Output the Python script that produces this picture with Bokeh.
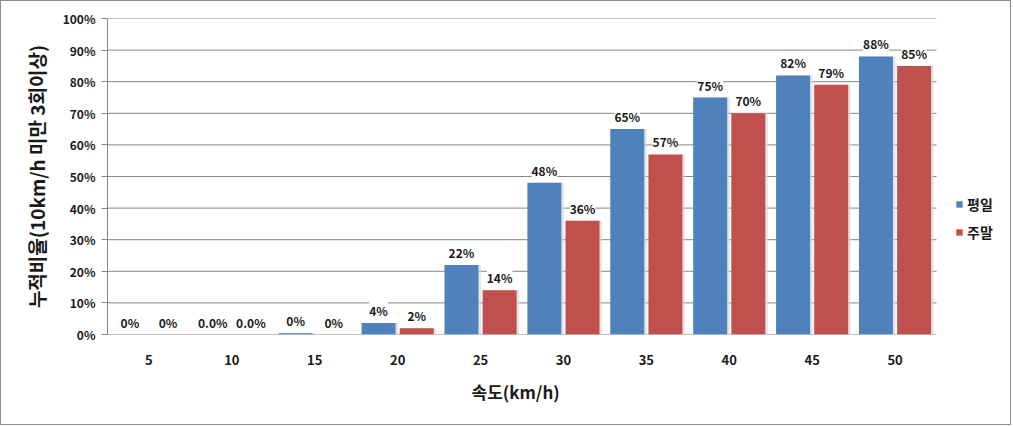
from bokeh.plotting import figure
from bokeh.models import ColumnDataSource, Range1d, FixedTicker, NumeralTickFormatter, Legend, LegendItem, LabelSet, Title
from bokeh.core.properties import value
from bokeh.embed import file_html
from bokeh.resources import INLINE

categories = ["5", "10", "15", "20", "25", "30", "35", "40", "45", "50"]
weekday = [0.0, 0.0, 0.4, 3.6, 22.0, 48.0, 65.0, 75.0, 82.0, 88.0]
weekend = [0.0, 0.0, 0.0, 2.0, 14.0, 36.0, 57.0, 70.0, 79.0, 85.0]
weekday_labels = ["0%", "0.0%", "0%", "4%", "22%", "48%", "65%", "75%", "82%", "88%"]
weekend_labels = ["0%", "0.0%", "0%", "2%", "14%", "36%", "57%", "70%", "79%", "85%"]
series_names = ["평일", "주말"]
yticks = [0, 10, 20, 30, 40, 50, 60, 70, 80, 90, 100]
x_title = "속도(km/h)"
y_title = "누적비율(10km/h 미만 3회이상)"

FONT = "Noto Sans CJK KR"
BLUE = "#4F81BD"
RED = "#C0504D"
GRID = "#868686"

idx = list(range(len(categories)))
off = 0.23
bw = 0.41

W, H = 1011, 425
LEFT, RIGHT, TOP, BOTTOM = 106, 2, 17, 92
frame_w = W - LEFT - RIGHT
cat_w = 829 / 10.0  # pixel width of one category
x_end = -0.5 + frame_w / cat_w

src_a = ColumnDataSource(dict(x=[i - off for i in idx], top=[v / 100 for v in weekday], lab=weekday_labels,
                              sx=[i - off + 0.03 for i in idx]))
src_b = ColumnDataSource(dict(x=[i + off for i in idx], top=[v / 100 for v in weekend], lab=weekend_labels,
                              sx=[i + off + 0.03 for i in idx]))

p = figure(width=W, height=H, output_backend="svg", toolbar_location=None,
           x_range=Range1d(-0.5, x_end), y_range=Range1d(0, 1),
           min_border_left=LEFT, min_border_right=RIGHT, min_border_top=TOP, min_border_bottom=BOTTOM)
p.outline_line_color = None
p.background_fill_color = "white"
p.border_fill_color = "white"
p.styles = {"border": "1px solid #8c8c8c", "box-sizing": "border-box"}

# gridlines only across the category area
gy = [t / 100 for t in yticks]
p.segment(x0=[-0.5] * len(gy), x1=[len(categories) - 0.5] * len(gy), y0=gy, y1=gy,
          line_color=GRID, line_width=1)

# shadows
p.vbar(x="sx", top="top", width=bw, bottom=-0.004, source=src_a, fill_color="#d8d8d8", line_color=None, fill_alpha=0.7)
p.vbar(x="sx", top="top", width=bw, bottom=-0.004, source=src_b, fill_color="#d8d8d8", line_color=None, fill_alpha=0.7)

ra = p.vbar(x="x", top="top", width=bw, source=src_a, fill_color=BLUE, line_color=None)
rb = p.vbar(x="x", top="top", width=bw, source=src_b, fill_color=RED, line_color=None)

for s in (src_a, src_b):
    ls = LabelSet(x="x", y="top", text="lab", source=s, text_align="center", text_baseline="bottom",
                  y_offset=4, text_font=value(FONT), text_font_size="12px", text_font_style="bold",
                  text_color="#1a1a1a", background_fill_color="white", background_fill_alpha=1.0)
    p.add_layout(ls)

p.xaxis.ticker = FixedTicker(ticks=idx)
p.xaxis.major_label_overrides = {i: c for i, c in zip(idx, categories)}
p.xaxis.major_tick_line_color = None
p.xaxis.minor_tick_line_color = None
p.xaxis.axis_line_color = None
p.xaxis.major_label_text_font = FONT
p.xaxis.major_label_text_font_size = "13px"
p.xaxis.major_label_text_font_style = "bold"
p.xaxis.major_label_text_color = "#1a1a1a"
p.xaxis.major_label_standoff = 14

# x-axis title, centred under the category area
xt = Title(text=x_title, align="left", offset=364, standoff=19,
           text_font=FONT, text_font_size="17px", text_font_style="bold", text_color="#1a1a1a")
p.add_layout(xt, "below")

p.yaxis.ticker = FixedTicker(ticks=gy)
p.yaxis.formatter = NumeralTickFormatter(format="0%")
p.yaxis.minor_tick_line_color = None
p.yaxis.major_tick_out = 6
p.yaxis.major_tick_in = 0
p.yaxis.major_tick_line_color = GRID
p.yaxis.axis_line_color = GRID
p.yaxis.major_label_text_font = FONT
p.yaxis.major_label_text_font_size = "12px"
p.yaxis.major_label_text_font_style = "bold"
p.yaxis.major_label_text_color = "#1a1a1a"
p.yaxis.major_label_standoff = 6
p.yaxis.axis_label = y_title
p.yaxis.axis_label_text_font = FONT
p.yaxis.axis_label_text_font_size = "19px"
p.yaxis.axis_label_text_font_style = "bold"
p.yaxis.axis_label_text_color = "#1a1a1a"
p.yaxis.axis_label_standoff = 10

p.xgrid.grid_line_color = None
p.ygrid.grid_line_color = None

legend = Legend(items=[LegendItem(label=series_names[0], renderers=[ra]),
                       LegendItem(label=series_names[1], renderers=[rb])],
                location=(848, 92), background_fill_alpha=0, border_line_color=None,
                label_text_font=FONT, label_text_font_size="14px", label_text_font_style="bold",
                label_text_color="#1a1a1a",
                glyph_width=8, glyph_height=8, label_standoff=4, spacing=8, padding=2, margin=0)
p.add_layout(legend, "center")

open("out.html", "w").write(file_html(p, INLINE))
